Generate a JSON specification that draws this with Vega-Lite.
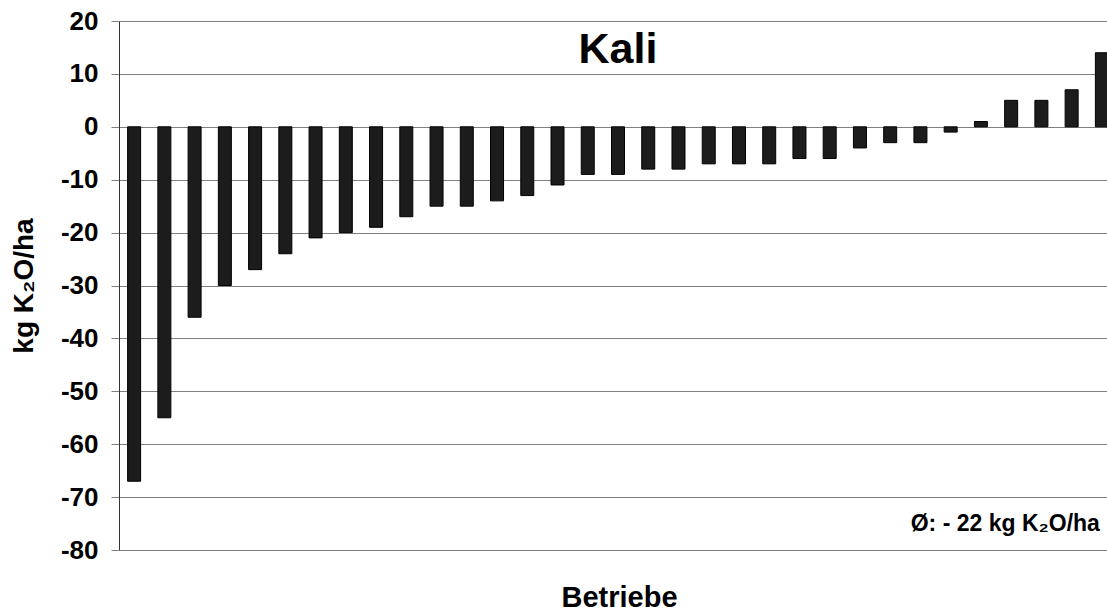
{
  "$schema": "https://vega.github.io/schema/vega-lite/v6.json",
  "autosize": {"type": "none"},
  "padding": {"left": 119, "top": 21, "right": 0, "bottom": 61},
  "width": 988,
  "height": 529,
  "background": "white",
  "config": {
    "view": {"stroke": null},
    "font": "Liberation Sans"
  },
  "layer": [
    {
      "data": {
        "values": [
          {"Betrieb": "1", "Saldo": -67},
          {"Betrieb": "2", "Saldo": -55},
          {"Betrieb": "3", "Saldo": -36},
          {"Betrieb": "4", "Saldo": -30},
          {"Betrieb": "5", "Saldo": -27},
          {"Betrieb": "6", "Saldo": -24},
          {"Betrieb": "7", "Saldo": -21},
          {"Betrieb": "8", "Saldo": -20},
          {"Betrieb": "9", "Saldo": -19},
          {"Betrieb": "10", "Saldo": -17},
          {"Betrieb": "11", "Saldo": -15},
          {"Betrieb": "12", "Saldo": -15},
          {"Betrieb": "13", "Saldo": -14},
          {"Betrieb": "14", "Saldo": -13},
          {"Betrieb": "15", "Saldo": -11},
          {"Betrieb": "16", "Saldo": -9},
          {"Betrieb": "17", "Saldo": -9},
          {"Betrieb": "18", "Saldo": -8},
          {"Betrieb": "19", "Saldo": -8},
          {"Betrieb": "20", "Saldo": -7},
          {"Betrieb": "21", "Saldo": -7},
          {"Betrieb": "22", "Saldo": -7},
          {"Betrieb": "23", "Saldo": -6},
          {"Betrieb": "24", "Saldo": -6},
          {"Betrieb": "25", "Saldo": -4},
          {"Betrieb": "26", "Saldo": -3},
          {"Betrieb": "27", "Saldo": -3},
          {"Betrieb": "28", "Saldo": -1},
          {"Betrieb": "29", "Saldo": 1},
          {"Betrieb": "30", "Saldo": 5},
          {"Betrieb": "31", "Saldo": 5},
          {"Betrieb": "32", "Saldo": 7},
          {"Betrieb": "33", "Saldo": 14}
        ]
      },
      "mark": {"type": "bar", "fill": "#1c1c1c", "stroke": "#000000", "strokeWidth": 1, "clip": true},
      "encoding": {
        "x": {
          "field": "Betrieb",
          "type": "nominal",
          "sort": null,
          "scale": {"range": [0, 998], "paddingInner": 0.57, "paddingOuter": 0.285},
          "axis": {
            "title": "Betriebe",
            "titleFont": "Liberation Sans",
            "titleFontSize": 29,
            "titleFontWeight": "bold",
            "titleColor": "black",
            "titlePadding": 33,
            "titleX": 500,
            "labels": false,
            "ticks": false,
            "domain": false,
            "grid": false
          }
        },
        "y": {
          "field": "Saldo",
          "type": "quantitative",
          "scale": {"domain": [-80, 20], "nice": false, "zero": false},
          "axis": {
            "title": "kg K₂O/ha",
            "titleFont": "Liberation Sans",
            "titleFontSize": 28,
            "titleFontWeight": "bold",
            "titleColor": "black",
            "titlePadding": 22,
            "values": [-80, -70, -60, -50, -40, -30, -20, -10, 0, 10, 20],
            "labelExpr": "'' + datum.value",
            "labelFont": "Liberation Sans",
            "labelFontSize": 26,
            "labelFontWeight": "bold",
            "labelColor": "black",
            "labelPadding": 13,
            "tickSize": 8,
            "tickColor": "#808080",
            "domainColor": "#333333",
            "grid": true,
            "gridColor": "#808080",
            "gridWidth": 1.2
          }
        }
      }
    },
    {
      "data": {"values": [{"Betrieb": "33", "Saldo": -75, "label": "Ø: - 22 kg K₂O/ha"}]},
      "mark": {"type": "text", "align": "right", "baseline": "middle", "font": "Liberation Sans", "fontSize": 23, "fontWeight": "bold", "color": "black", "dx": -2},
      "encoding": {
        "x": {"field": "Betrieb", "type": "nominal", "sort": null},
        "y": {"field": "Saldo", "type": "quantitative"},
        "text": {"field": "label"}
      }
    },
    {
      "data": {"values": [{"Betrieb": "17", "Saldo": 14.5, "label": "Kali"}]},
      "mark": {"type": "text", "align": "center", "baseline": "middle", "font": "Liberation Sans", "fontSize": 43, "fontWeight": "bold", "color": "black"},
      "encoding": {
        "x": {"field": "Betrieb", "type": "nominal", "sort": null},
        "y": {"field": "Saldo", "type": "quantitative"},
        "text": {"field": "label"}
      }
    }
  ]
}
